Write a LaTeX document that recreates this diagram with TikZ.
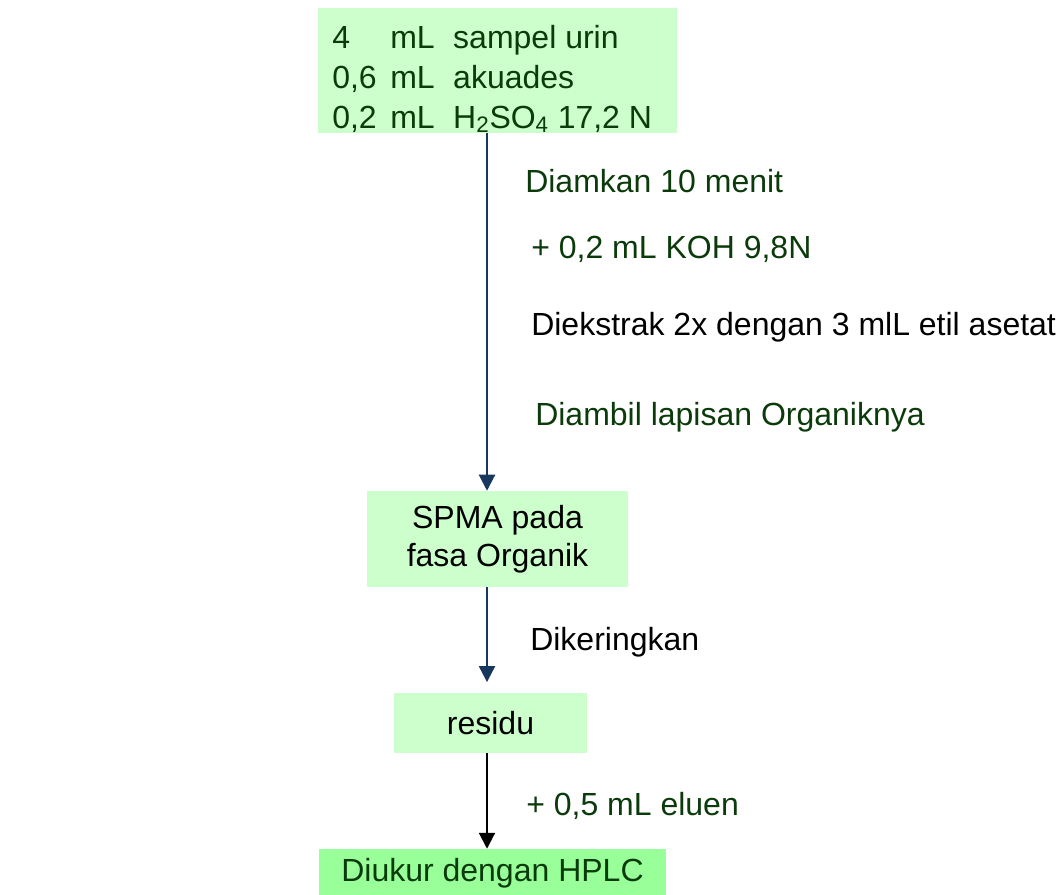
\documentclass[tikz,border=0pt]{standalone}
\usepackage{fontspec}
\setmainfont{Liberation Sans}
\usetikzlibrary{arrows.meta}
\definecolor{boxgreen}{HTML}{CCFFCC}
\definecolor{hplcgreen}{HTML}{99FF99}
\definecolor{textgreen}{HTML}{0B3B0B}
\definecolor{arrowblue}{HTML}{17375E}
\begin{document}
\begin{tikzpicture}[x=0.75pt, y=-0.75pt,
        every node/.style={font=\fontsize{24pt}{28.5pt}\selectfont, inner sep=0pt},
        stepbox/.style={fill=boxgreen},
        note/.style={anchor=base west},
        flow/.style={-{Triangle[width=12pt,length=12pt]}, line width=1.6pt, draw=arrowblue}]
            \useasboundingbox (0,0) rectangle (1062,894);
            \coordinate (spine) at (487,0);

            % boxes
            \node[stepbox, minimum width=269.25pt, minimum height=93.75pt] (start) at (497.5,70.5) {};
            \node[anchor=base west, text=textgreen, font=\fontsize{24pt}{30pt}\selectfont] (startText) at (332,48)
                {\begin{tabular}[t]{@{}p{43.5pt}@{}p{47.25pt}@{}l@{}}
                 4 & mL & sampel urin\\
                 0,6 & mL & akuades\\
                 0,2 & mL & H\textsubscript{2}SO\textsubscript{4} 17,2 N
                 \end{tabular}};
            \node[stepbox, minimum width=195.75pt, minimum height=72pt, align=center] (spma) at (497.5,539) {SPMA pada\\fasa Organik};
            \node[stepbox, minimum width=144.75pt, minimum height=45pt] (residu) at (490.5,723) {residu};
            \node[stepbox, fill=hplcgreen, text=textgreen, minimum width=260.25pt, minimum height=36.75pt] (hplc) at (492.5,873.5) {Diukur dengan HPLC};

            % arrows
            \draw[flow] (spine |- start.south) -- (spine |- spma.north);
            \draw[flow, shorten >=8pt] (spine |- spma.south) -- (spine |- residu.north);
            \draw[flow, draw=black] (spine |- residu.south) -- (spine |- hplc.north);

            % labels
            \node[note, text=textgreen] (rest) at (525,192) {Diamkan 10 menit};
            \node[note, text=textgreen] (koh) at (531,258) {+ 0,2 mL KOH 9,8N};
            \node[note] (extract) at (531,335) {Diekstrak 2x dengan 3 mlL etil asetat};
            \node[note, text=textgreen] (organic) at (535,425) {Diambil lapisan Organiknya};
            \node[note] (dry) at (530,650) {Dikeringkan};
            \node[note, text=textgreen] (eluent) at (526,815) {+ 0,5 mL eluen};
        \end{tikzpicture}
\end{document}
